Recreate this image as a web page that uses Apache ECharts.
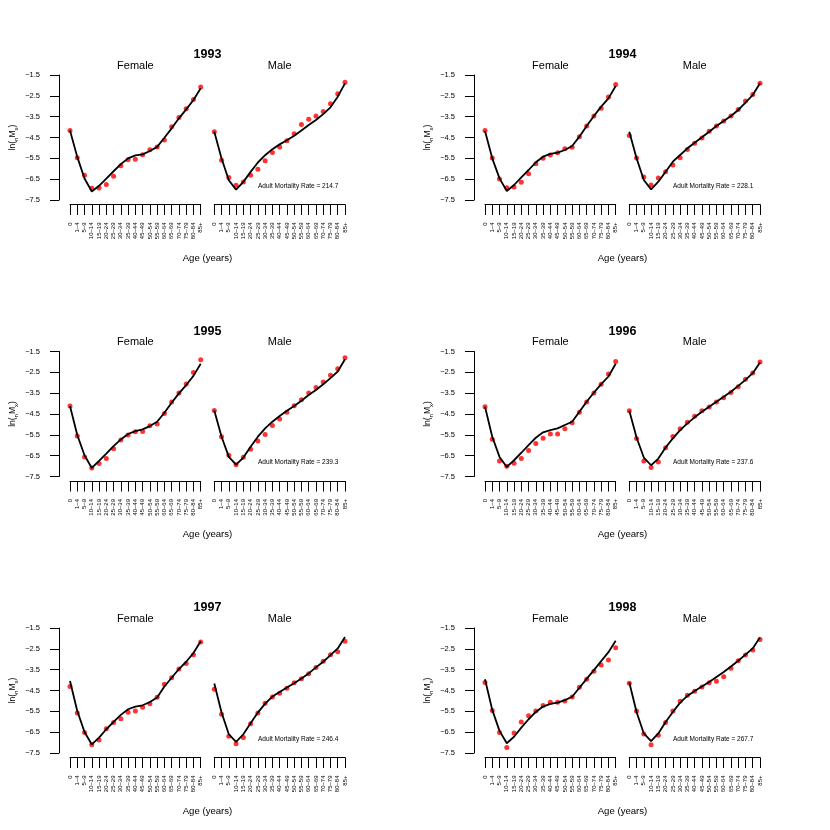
<!DOCTYPE html>
<html>
<head>
<meta charset="utf-8">
<script src="https://cdn.jsdelivr.net/npm/echarts@6/dist/echarts.min.js"></script>
<style>
  html, body { margin: 0; padding: 0; background: #fff; }
  #main { width: 830px; height: 830px; }
</style>
</head>
<body>
<div id="main"></div>
<script>
// age groups on the x axis, y tick values
const ageGroups = ['0', '1–4', '5–9', '10–14', '15–19', '20–24', '25–29', '30–34', '35–39', '40–44',
  '45–49', '50–54', '55–59', '60–64', '65–69', '70–74', '75–79', '80–84', '85+']
const yTicks = [-7.5, -6.5, -5.5, -4.5, -3.5, -2.5, -1.5]
const years = ['1993', '1994', '1995', '1996', '1997', '1998']
const adultRates = ['214.7', '228.1', '239.3', '237.6', '246.4', '267.7']

// observed ln(nMx) = red dots, fitted = black line
const female1993Obs = [-4.16, -5.47, -6.31, -6.93, -6.92, -6.76, -6.36, -5.86, -5.57, -5.54, -5.33, -5.09, -4.95, -4.62, -3.98, -3.54, -3.12, -2.67, -2.08]
const female1993Fit = [-4.16, -5.43, -6.47, -7.09, -6.82, -6.47, -6.12, -5.78, -5.50, -5.36, -5.31, -5.15, -4.95, -4.51, -4.06, -3.58, -3.15, -2.70, -2.14]
const male1993Obs = [-4.22, -5.59, -6.42, -6.79, -6.64, -6.31, -6.02, -5.62, -5.22, -4.95, -4.66, -4.32, -3.87, -3.62, -3.47, -3.25, -2.88, -2.40, -1.85]
const male1993Fit = [-4.22, -5.51, -6.55, -7.00, -6.63, -6.15, -5.70, -5.35, -5.06, -4.83, -4.63, -4.42, -4.16, -3.90, -3.66, -3.38, -3.05, -2.54, -1.90]

const female1994Obs = [-4.16, -5.48, -6.49, -6.91, -6.88, -6.65, -6.24, -5.76, -5.50, -5.34, -5.23, -5.04, -4.97, -4.46, -3.95, -3.47, -3.10, -2.56, -1.95]
const female1994Fit = [-4.19, -5.50, -6.46, -7.07, -6.78, -6.41, -6.06, -5.69, -5.42, -5.29, -5.23, -5.10, -4.91, -4.46, -3.95, -3.47, -3.02, -2.62, -2.03]
const male1994Obs = [-4.40, -5.48, -6.40, -6.78, -6.44, -6.14, -5.82, -5.47, -5.07, -4.78, -4.52, -4.20, -3.95, -3.71, -3.47, -3.16, -2.75, -2.43, -1.90]
const male1994Fit = [-4.22, -5.50, -6.54, -6.99, -6.62, -6.14, -5.66, -5.34, -5.02, -4.75, -4.49, -4.22, -3.95, -3.71, -3.47, -3.18, -2.83, -2.46, -1.90]

const female1995Obs = [-4.12, -5.56, -6.56, -7.09, -6.88, -6.64, -6.17, -5.75, -5.51, -5.35, -5.34, -5.06, -4.98, -4.47, -3.92, -3.49, -3.06, -2.51, -1.90]
const female1995Fit = [-4.12, -5.51, -6.48, -7.09, -6.75, -6.40, -6.04, -5.72, -5.46, -5.32, -5.24, -5.08, -4.87, -4.44, -3.96, -3.51, -3.11, -2.67, -2.09]
const male1995Obs = [-4.33, -5.59, -6.48, -6.93, -6.57, -6.19, -5.79, -5.48, -5.05, -4.74, -4.41, -4.10, -3.81, -3.49, -3.23, -2.96, -2.64, -2.33, -1.80]
const male1995Fit = [-4.33, -5.59, -6.56, -6.93, -6.59, -6.07, -5.59, -5.19, -4.87, -4.60, -4.34, -4.12, -3.86, -3.59, -3.35, -3.07, -2.78, -2.46, -1.87]

const female1996Obs = [-4.15, -5.71, -6.75, -7.01, -6.86, -6.64, -6.25, -5.91, -5.66, -5.46, -5.46, -5.21, -4.92, -4.41, -3.92, -3.49, -3.07, -2.58, -1.98]
const female1996Fit = [-4.15, -5.59, -6.56, -7.04, -6.72, -6.36, -5.99, -5.64, -5.38, -5.27, -5.19, -5.03, -4.87, -4.39, -3.91, -3.47, -3.07, -2.70, -2.09]
const male1996Obs = [-4.34, -5.67, -6.75, -7.07, -6.80, -6.12, -5.58, -5.21, -4.90, -4.61, -4.34, -4.16, -3.92, -3.72, -3.47, -3.19, -2.83, -2.53, -2.00]
const male1996Fit = [-4.34, -5.63, -6.59, -6.96, -6.64, -6.11, -5.67, -5.27, -4.95, -4.66, -4.39, -4.15, -3.91, -3.67, -3.43, -3.15, -2.86, -2.54, -2.03]

const female1997Obs = [-4.31, -5.58, -6.52, -7.10, -6.88, -6.33, -6.03, -5.85, -5.54, -5.48, -5.30, -5.13, -4.82, -4.20, -3.89, -3.47, -3.20, -2.78, -2.17]
const female1997Fit = [-4.04, -5.48, -6.49, -7.09, -6.76, -6.36, -6.01, -5.67, -5.40, -5.27, -5.21, -5.05, -4.84, -4.31, -3.89, -3.47, -3.12, -2.70, -2.14]
const male1997Obs = [-4.44, -5.64, -6.70, -7.05, -6.76, -6.09, -5.58, -5.11, -4.81, -4.63, -4.39, -4.13, -3.94, -3.70, -3.39, -3.09, -2.78, -2.64, -2.13]
const male1997Fit = [-4.16, -5.56, -6.60, -6.97, -6.60, -6.07, -5.56, -5.13, -4.79, -4.57, -4.36, -4.15, -3.92, -3.68, -3.39, -3.12, -2.80, -2.48, -1.93]

const female1998Obs = [-4.12, -5.46, -6.52, -7.24, -6.54, -6.01, -5.71, -5.48, -5.22, -5.06, -5.06, -5.00, -4.81, -4.34, -3.96, -3.57, -3.27, -3.04, -2.45]
const female1998Fit = [-3.96, -5.43, -6.44, -7.03, -6.72, -6.28, -5.88, -5.53, -5.27, -5.14, -5.08, -4.96, -4.80, -4.37, -3.94, -3.52, -3.09, -2.66, -2.11]
const male1998Obs = [-4.15, -5.48, -6.59, -7.10, -6.65, -6.04, -5.48, -5.02, -4.73, -4.53, -4.33, -4.13, -4.05, -3.84, -3.43, -3.07, -2.80, -2.56, -2.05]
const male1998Fit = [-4.12, -5.53, -6.56, -6.93, -6.56, -6.01, -5.53, -5.08, -4.76, -4.52, -4.31, -4.09, -3.85, -3.61, -3.35, -3.07, -2.78, -2.48, -1.95]

// one entry per panel: [female obs, female fit, male obs, male fit]
const panelData = [
  [female1993Obs, female1993Fit, male1993Obs, male1993Fit],
  [female1994Obs, female1994Fit, male1994Obs, male1994Fit],
  [female1995Obs, female1995Fit, male1995Obs, male1995Fit],
  [female1996Obs, female1996Fit, male1996Obs, male1996Fit],
  [female1997Obs, female1997Fit, male1997Obs, male1997Fit],
  [female1998Obs, female1998Fit, male1998Obs, male1998Fit],
]

const FONT = '"Liberation Sans", Arial, sans-serif'
const PANEL_W = 415
const PANEL_H = 276.5

const grids = []
const xAxes = []
const yAxes = []
const series = []
const graphics = []

function txt(x, y, text, size, opts = {}) {
  graphics.push({
    type: 'text', x, y, silent: true,
    style: {
      text, fill: '#000',
      font: `${opts.bold ? 'bold ' : ''}${size}px ${FONT}`,
      align: opts.align || 'center', verticalAlign: 'middle',
    },
  })
}

years.forEach((year, i) => {
  const ox = (i % 2) * PANEL_W
  const oy = Math.floor(i / 2) * PANEL_H
  const [fObs, fFit, mObs, mFit] = panelData[i]

  ;[[fObs, fFit], [mObs, mFit]].forEach(([obs, fit], s) => {
    const k = i * 2 + s
    grids.push({
      left: ox + (s ? 214.3 : 70), top: oy + 75, width: 130.7, height: 125,
      outerBoundsMode: 'none',
    })
    xAxes.push({
      gridIndex: k, type: 'category', data: ageGroups, boundaryGap: false, offset: 4.5,
      axisLine: { lineStyle: { color: '#000', width: 1 } },
      axisTick: { interval: 0, length: 10.5, lineStyle: { color: '#000', width: 1 } },
      axisLabel: { interval: 0, rotate: 90, fontSize: 6, margin: 18, color: '#000', fontFamily: FONT },
      splitLine: { show: false },
    })
    yAxes.push({
      gridIndex: k, type: 'value', min: -7.5, max: -1.5, show: s === 0, offset: 11,
      axisLine: { show: true, lineStyle: { color: '#000', width: 1 } },
      axisTick: { show: true, customValues: yTicks, length: 9, lineStyle: { color: '#000', width: 1 } },
      axisLabel: {
        customValues: yTicks, margin: 19, fontSize: 7.5, color: '#000', fontFamily: FONT,
        formatter: (v) => v.toFixed(1).replace('-', '\u2212'),
      },
      splitLine: { show: false },
      name: '{m|ln(}{s|n}{m|M}{s|x}{m|)}',
      nameLocation: 'middle', nameRotate: 90, nameGap: 40, nameMoveOverlap: false,
      nameTextStyle: {
        color: '#000', fontFamily: FONT,
        rich: {
          m: { fontSize: 8.5, lineHeight: 12, verticalAlign: 'middle', fontFamily: FONT, color: '#000' },
          s: { fontSize: 6, verticalAlign: 'bottom', fontFamily: FONT, color: '#000' },
        },
      },
    })
    series.push({
      type: 'scatter', xAxisIndex: k, yAxisIndex: k, data: obs,
      symbol: 'circle', symbolSize: 5, itemStyle: { color: '#ff0000' }, z: 2, silent: true,
    })
    series.push({
      type: 'line', xAxisIndex: k, yAxisIndex: k, data: fit,
      symbol: 'none', lineStyle: { color: '#000', width: 1.8 }, z: 3, silent: true,
    })
  })

  txt(ox + 207.5, oy + 55, year, 12.5, { bold: true })
  txt(ox + 135.4, oy + 65.5, 'Female', 11)
  txt(ox + 279.7, oy + 65.5, 'Male', 11)
  txt(ox + 207.5, oy + 258, 'Age (years)', 9.6)
  txt(ox + 258, oy + 186, 'Adult Mortality Rate = ' + adultRates[i], 6.5, { align: 'left' })
})

const chart = echarts.init(document.getElementById('main'))
chart.setOption({
  animation: false,
  backgroundColor: '#fff',
  grid: grids,
  xAxis: xAxes,
  yAxis: yAxes,
  series,
  graphic: graphics,
})
</script>
</body>
</html>
